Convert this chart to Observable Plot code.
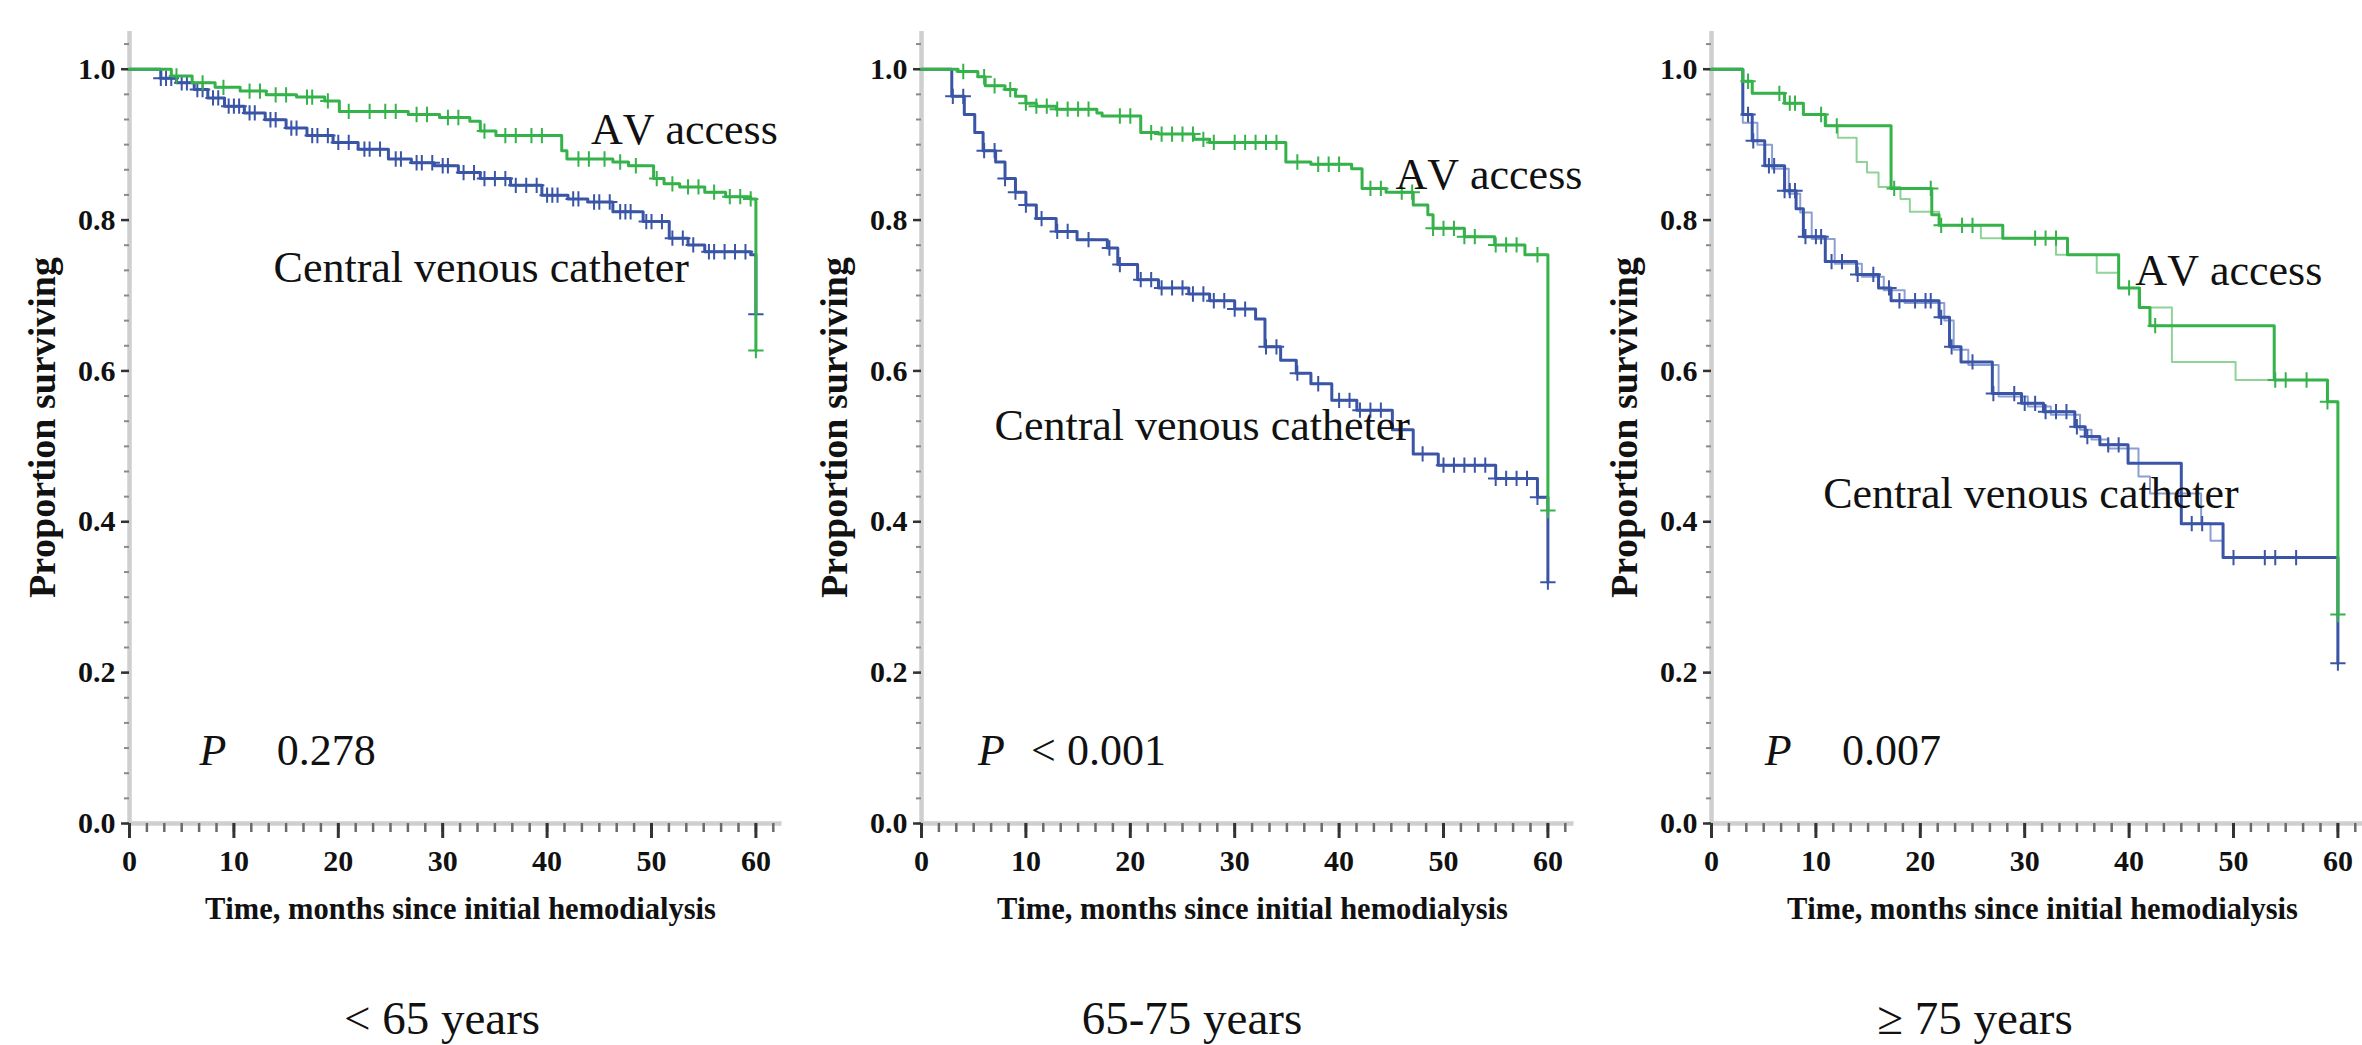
<!DOCTYPE html>
<html>
<head>
<meta charset="utf-8">
<script src="https://cdn.jsdelivr.net/npm/d3@7"></script>
<script src="https://cdn.jsdelivr.net/npm/@observablehq/plot@0.6"></script>
<style>
  html, body { margin: 0; padding: 0; background: #fff; width: 2362px; height: 1045px; overflow: hidden; }
  #root { position: relative; width: 2362px; height: 1045px; }
  .panel { position: absolute; top: 0; width: 791px; height: 945px; }
  svg text { font-kerning: none; }
  .sub { position: absolute; top: 995px; font-family: "Liberation Serif", "Times New Roman", serif; font-size: 47px; line-height: 1; white-space: nowrap; transform: translateX(-50%); color: #111; font-kerning: none; }
</style>
</head>
<body>
<div id="root"></div>
<script>
// ---------- text ----------
const panelTitles = ["< 65 years", "65-75 years", "\u2265 75 years"];
const pValues = ["0.278", "< 0.001", "0.007"];
const seriesNames = ["AV access", "Central venous catheter"];
const xTitle = "Time, months since initial hemodialysis";
const yTitle = "Proportion surviving";
const xMajorTicks = [0, 10, 20, 30, 40, 50, 60];
const yMajorTicks = [0, 0.2, 0.4, 0.6, 0.8, 1.0];
const yTickLabels = ["0.0", "0.2", "0.4", "0.6", "0.8", "1.0"];

// ---------- panel 1 (< 65 years) ----------
const p1AvTime = [0, 4.0, 6.0, 8.2, 10.6, 13.1, 16.0, 18.7, 20.1, 26.7, 29.7, 32.6, 33.6, 35.1, 41.4, 41.9, 46.3, 47.8, 50.2, 51.2, 52.7, 55.1, 57.1, 59.5, 60];
const p1AvSurv = [1, 0.991, 0.982, 0.976, 0.971, 0.966, 0.963, 0.958, 0.944, 0.940, 0.936, 0.931, 0.918, 0.912, 0.892, 0.881, 0.877, 0.872, 0.855, 0.848, 0.844, 0.837, 0.831, 0.828, 0.627];
const p1AvCens = [4.5, 7, 9, 11.5, 12.5, 14, 15, 17, 17.5, 19, 21, 23, 24.5, 25.5, 27.5, 28.5, 30.5, 31.5, 34, 36, 37, 38.5, 39.5, 43, 44, 45.5, 47, 48.5, 50.5, 52, 53.5, 54.5, 56, 57.5, 58.5, 59.5, 60];
const p1CvcTime = [0, 3, 4.5, 6.2, 7.5, 9.1, 11, 13, 15, 17, 19.5, 21.9, 24.8, 27, 29.2, 31.5, 33.6, 36.5, 39.5, 42, 43.9, 46.3, 49.2, 51.7, 53.5, 55.1, 59.5, 60];
const p1CvcSurv = [1, 0.988, 0.982, 0.973, 0.962, 0.951, 0.942, 0.933, 0.922, 0.912, 0.903, 0.894, 0.881, 0.876, 0.872, 0.863, 0.855, 0.846, 0.833, 0.828, 0.824, 0.811, 0.798, 0.776, 0.767, 0.758, 0.754, 0.675];
const p1CvcCens = [3, 3.5, 4, 5, 5.5, 6.5, 7, 8, 8.5, 9.5, 10, 10.5, 11.5, 12, 13.5, 14, 15.5, 16, 17.5, 18, 19, 20, 21, 22.5, 23, 24, 25.5, 26, 27.5, 28, 29, 30, 30.5, 32, 33, 34, 35, 36, 37, 38, 39, 40, 40.5, 41, 42.5, 43, 44.5, 45, 46, 47, 47.5, 48, 49.5, 50, 51, 52, 53, 54, 55.5, 56, 57, 58, 59, 60];

// ---------- panel 2 (65-75 years) ----------
const p2AvTime = [0, 3.5, 5.4, 6.1, 8, 9, 10, 11, 12.9, 16.8, 17.3, 21, 22.7, 26.1, 27.6, 34.9, 37.3, 41.2, 42.2, 44.5, 47.1, 48.5, 49, 52, 54.9, 57.8, 60];
const p2AvSurv = [1, 0.997, 0.99, 0.978, 0.973, 0.964, 0.955, 0.951, 0.947, 0.942, 0.938, 0.916, 0.914, 0.907, 0.903, 0.877, 0.874, 0.868, 0.842, 0.837, 0.82, 0.807, 0.789, 0.778, 0.767, 0.754, 0.415];
const p2AvCens = [4, 6, 7, 8.5, 10, 11, 12, 13, 14, 15, 16, 19, 20, 22, 23, 24, 25, 26, 27, 28, 30, 31, 32, 33, 34, 36, 38, 39, 40, 43, 44, 46, 47, 49, 50, 51, 52, 53, 55, 56, 57, 59, 60];
const p2CvcTime = [0, 2.9, 4.1, 5.1, 5.9, 7.1, 8, 9, 10, 11, 12.9, 14.9, 17.8, 18.8, 20.7, 22.7, 25.6, 27.6, 30, 32, 32.9, 34.4, 35.9, 37.3, 39.3, 41.7, 45.1, 47.1, 49.5, 55, 59, 60];
const p2CvcSurv = [1, 0.964, 0.94, 0.916, 0.892, 0.877, 0.855, 0.837, 0.82, 0.802, 0.785, 0.774, 0.763, 0.741, 0.721, 0.71, 0.702, 0.693, 0.682, 0.669, 0.632, 0.614, 0.597, 0.583, 0.561, 0.548, 0.522, 0.49, 0.475, 0.4575, 0.4325, 0.32];
const p2CvcCens = [3, 4, 6, 7, 8, 9, 10, 11.5, 13, 14, 16, 18, 19, 21, 22, 23, 24, 25, 26, 27, 28, 29, 30, 31, 33, 34, 36, 38, 40, 41, 42, 43, 44, 46, 48, 50, 51, 52, 53, 54, 55, 56, 57, 58, 59, 60];

// ---------- panel 3 (>= 75 years) ----------
const p3AvTime = [0, 3.0, 3.9, 7, 8.8, 10.9, 17.2, 21.1, 21.8, 27.9, 34.1, 39, 41, 42, 53.9, 59, 60];
const p3AvSurv = [1, 0.984, 0.968, 0.955, 0.94, 0.925, 0.842, 0.807, 0.793, 0.776, 0.754, 0.71, 0.684, 0.66, 0.588, 0.559, 0.277];
const p3AvAltTime = [0, 3.0, 3.9, 7, 8.8, 11, 12.1, 13.9, 14.9, 16, 18.1, 19, 21.8, 25.8, 33, 36.9, 39, 40.9, 44.1, 50.2, 59, 60];
const p3AvAltSurv = [1, 0.984, 0.968, 0.955, 0.94, 0.925, 0.909, 0.877, 0.863, 0.844, 0.828, 0.811, 0.793, 0.776, 0.754, 0.73, 0.71, 0.684, 0.612, 0.588, 0.559, 0.277];
const p3AvCens = [3.5, 6.5, 7.5, 8, 10.5, 12, 17.5, 21, 22, 24, 25, 31, 32, 33, 40, 42.5, 54, 55, 57, 59, 60];
const p3CvcTime = [0, 3, 3.9, 5.1, 7, 8.1, 8.8, 10.9, 13.9, 16, 17.2, 21.8, 22.8, 23.9, 26.9, 29.7, 31.8, 34.8, 35.8, 37.2, 39.9, 45, 49, 60];
const p3CvcSurv = [1, 0.94, 0.905, 0.872, 0.839, 0.815, 0.778, 0.745, 0.728, 0.71, 0.693, 0.671, 0.632, 0.612, 0.57, 0.557, 0.546, 0.526, 0.513, 0.502, 0.4775, 0.3975, 0.3525, 0.2125];
const p3CvcAltTime = [0, 3, 4.4, 5.8, 7.4, 8.5, 9.6, 11.8, 14.4, 16.5, 18.5, 22.3, 23.2, 24.6, 27.5, 30.3, 32.5, 35.3, 36.4, 38, 40.9, 42, 46.9, 47.8, 49, 60];
const p3CvcAltSurv = [1, 0.929, 0.9, 0.868, 0.835, 0.81, 0.775, 0.742, 0.725, 0.707, 0.69, 0.667, 0.628, 0.608, 0.566, 0.553, 0.542, 0.522, 0.509, 0.497, 0.46, 0.4375, 0.3975, 0.375, 0.3525, 0.2125];
const p3CvcCens = [3.5, 4, 5.5, 6, 7, 7.5, 8, 9, 10, 10.5, 11.5, 12.5, 14, 15.5, 17, 18, 19.5, 20.5, 21, 22, 23, 25, 27, 29, 30, 31, 32, 33, 34, 35, 36, 38, 39, 46, 47, 50, 53, 54, 56, 60];

// ---------- helpers ----------
const GREEN = "#35b24a", GREEN_ALT = "#8fd398", BLUE = "#3a55a6", BLUE_ALT = "#8c9ed3";
const SERIF = "'Liberation Serif', 'Times New Roman', serif";
const xMinor = d3.range(0, 38).map(i => i * 10 / 6);
const yMinor = d3.range(0, 32).map(i => i / 30);

function steps(times, survs) { return times.map((t, i) => ({t, s: survs[i]})); }
function survAt(times, survs, t) { let s = survs[0]; for (let i = 0; i < times.length; i++) if (times[i] <= t) s = survs[i]; return s; }
function censors(c, times, survs) { return c.map(t => ({t, s: survAt(times, survs, t)})); }

const panels = [
  {left: 0, title: panelTitles[0], titleX: 442,
   av: [p1AvTime, p1AvSurv, p1AvCens], cvc: [p1CvcTime, p1CvcSurv, p1CvcCens],
   avLab: [44.2, 0.92], cvcLab: [13.8, 0.737], pX: 6.7, valX: 14.1, pv: pValues[0]},
  {left: 792, title: panelTitles[1], titleX: 1192,
   av: [p2AvTime, p2AvSurv, p2AvCens], cvc: [p2CvcTime, p2CvcSurv, p2CvcCens],
   avLab: [45.4, 0.86], cvcLab: [7.0, 0.527], pX: 5.4, valX: 10.5, pv: pValues[1]},
  {left: 1582, title: panelTitles[2], titleX: 1975,
   av: [p3AvTime, p3AvSurv, p3AvCens], cvc: [p3CvcTime, p3CvcSurv, p3CvcCens],
   avAlt: [p3AvAltTime, p3AvAltSurv], cvcAlt: [p3CvcAltTime, p3CvcAltSurv],
   avLab: [40.6, 0.733], cvcLab: [10.7, 0.437], pX: 5.1, valX: 12.5, pv: pValues[2]}
];

const root = document.getElementById("root");

for (const p of panels) {
  const marks = [
    Plot.ruleY([0], {stroke: "#cfcfcf", strokeWidth: 4.5}),
    Plot.ruleX([0], {stroke: "#cfcfcf", strokeWidth: 4.5}),
    Plot.axisX(xMinor, {tickSize: 9, tickFormat: () => "", stroke: "#6a6a6a", strokeWidth: 2.5, label: null}),
    Plot.axisX(xMajorTicks, {tickSize: 15, tickPadding: 11, stroke: "#333", strokeWidth: 3, fill: "#111",
      fontSize: 30, fontWeight: "bold", fontFamily: SERIF, tickFormat: d => String(d), label: null}),
    Plot.axisY(yMinor, {tickSize: 5, tickFormat: () => "", stroke: "#8a8a8a", strokeWidth: 2, label: null}),
    Plot.axisY(yMajorTicks, {tickSize: 8, tickPadding: 6, stroke: "#333", strokeWidth: 2.5, fill: "#111",
      fontSize: 30, fontWeight: "bold", fontFamily: SERIF, tickFormat: d => yTickLabels[yMajorTicks.indexOf(d)], label: null})
  ];
  if (p.cvcAlt) marks.push(Plot.line(steps(...p.cvcAlt), {x: "t", y: "s", curve: "step-after", stroke: BLUE_ALT, strokeWidth: 2}));
  marks.push(Plot.line(steps(p.cvc[0], p.cvc[1]), {x: "t", y: "s", curve: "step-after", stroke: BLUE, strokeWidth: 3}));
  marks.push(Plot.dot(censors(p.cvc[2], p.cvc[0], p.cvc[1]), {x: "t", y: "s", symbol: "plus", r: 5, stroke: BLUE, strokeWidth: 2}));
  if (p.avAlt) marks.push(Plot.line(steps(...p.avAlt), {x: "t", y: "s", curve: "step-after", stroke: GREEN_ALT, strokeWidth: 2}));
  marks.push(Plot.line(steps(p.av[0], p.av[1]), {x: "t", y: "s", curve: "step-after", stroke: GREEN, strokeWidth: 3}));
  marks.push(Plot.dot(censors(p.av[2], p.av[0], p.av[1]), {x: "t", y: "s", symbol: "plus", r: 5, stroke: GREEN, strokeWidth: 2}));
  // labels
  const lab = {fontSize: 44, fontFamily: SERIF, fontWeight: "normal", fill: "#111", textAnchor: "start"};
  marks.push(Plot.text([seriesNames[0]], {...lab, x: p.avLab[0], y: p.avLab[1]}));
  marks.push(Plot.text([seriesNames[1]], {...lab, x: p.cvcLab[0], y: p.cvcLab[1]}));
  marks.push(Plot.text(["P"], {...lab, x: p.pX, y: 0.096, fontStyle: "italic"}));
  marks.push(Plot.text([p.pv], {...lab, x: p.valX, y: 0.096}));
  // axis titles
  marks.push(Plot.text([yTitle], {frameAnchor: "left", textAnchor: "middle", y: 0.525, dx: -87, rotate: -90, fontSize: 38,
    fontWeight: "bold", fontFamily: SERIF, fill: "#111"}));
  marks.push(Plot.text([xTitle], {frameAnchor: "bottom", x: 31.7, dy: 95, fontSize: 30.5,
    fontWeight: "bold", fontFamily: SERIF, fill: "#111"}));

  const chart = Plot.plot({
    width: 791, height: 945,
    marginLeft: 129, marginRight: 9.5, marginTop: 31, marginBottom: 122,
    x: {domain: [0, 62.5]},
    y: {domain: [0, 1.05]},
    style: {background: "transparent", overflow: "visible", fontFamily: SERIF, color: "#111"},
    marks
  });
  const div = document.createElement("div");
  div.className = "panel";
  div.style.left = p.left + "px";
  div.appendChild(chart);
  root.appendChild(div);

  const sub = document.createElement("div");
  sub.className = "sub";
  sub.style.left = p.titleX + "px";
  sub.textContent = p.title;
  root.appendChild(sub);
}
</script>
</body>
</html>
